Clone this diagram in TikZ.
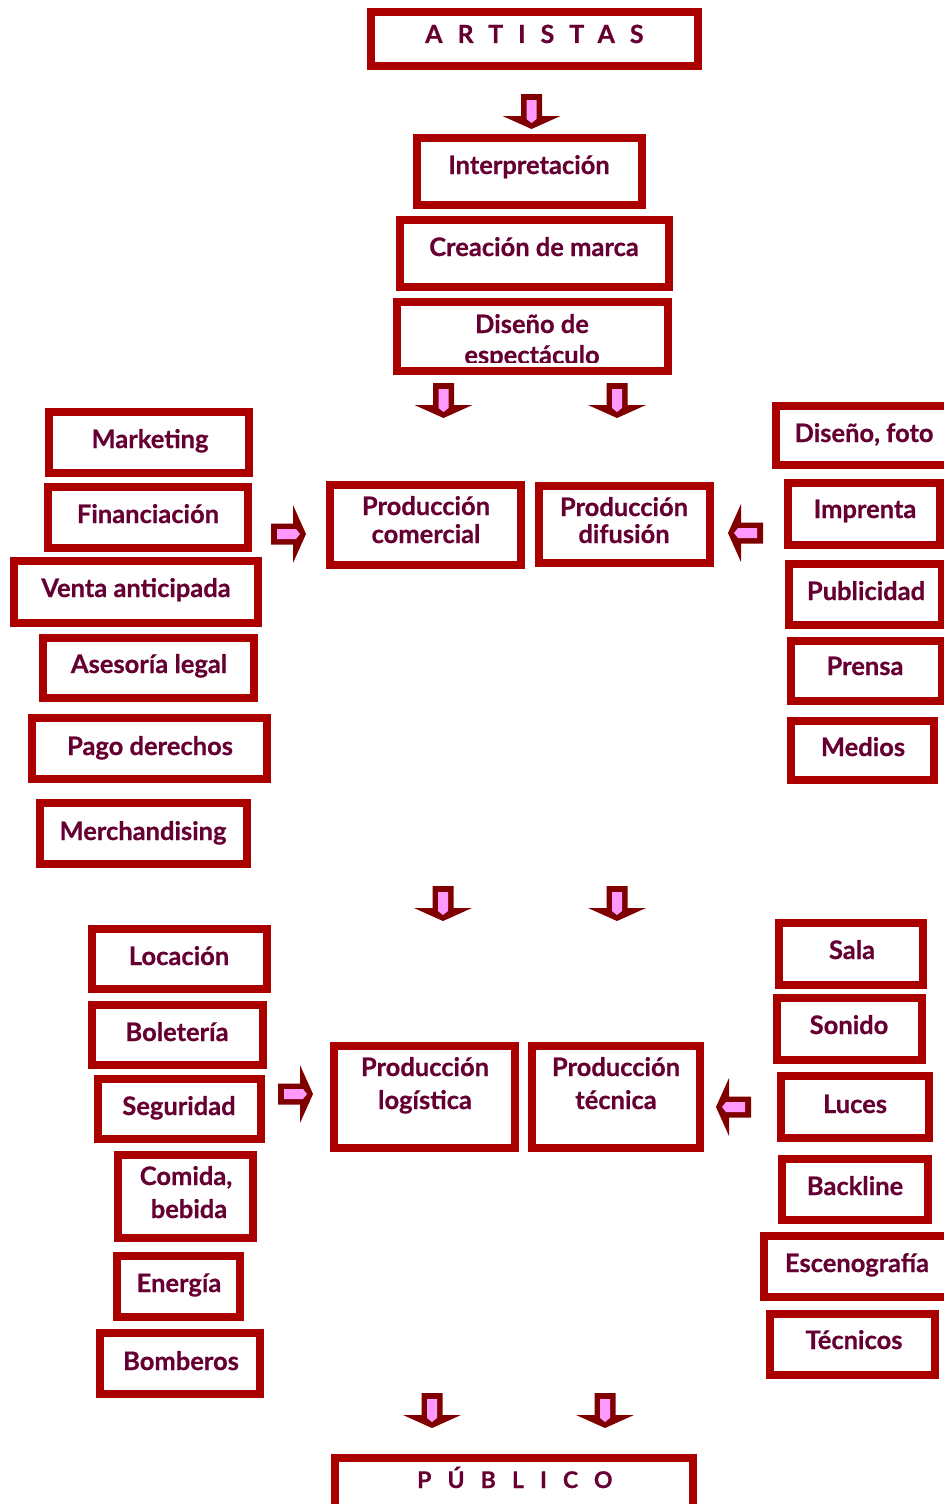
\documentclass[tikz,border=0pt]{standalone}
\usepackage{fontspec}
\setmainfont{Lato}[BoldFeatures={FakeBold=0.6}]
\definecolor{edge}{HTML}{AA0000}
\definecolor{ink}{HTML}{660033}
\definecolor{arrowdark}{HTML}{800000}
\definecolor{arrowpink}{HTML}{FF99FF}
\tikzset{
  box/.style={draw=edge, line width=8pt, fill=white, inner sep=0pt, rectangle},
  txt/.style={text=ink, inner sep=0pt, anchor=base,
    font=\fontsize{25.5}{30}\selectfont\bfseries},
  blockarrow/.pic={
    \fill[arrowdark] (-10.5,0) -- (10.5,0) -- (10.5,22) -- (29,22) -- (0,35)
      -- (-29,22) -- (-10.5,22) -- cycle;
    \fill[arrowpink] (-5,6) -- (5,6) -- (5,25) -- (0,29) -- (-5,25) -- cycle;
  }
}
% box: name, left, top, right, bottom (outer edges of the frame)
\newcommand\bx[5]{%
  \node[box, minimum width={#4-#2-8}, minimum height={#5-#3-8}]
    (#1) at ({(#2+#4)/2},{(#3+#5)/2}) {};}
% text line: name, x centre, baseline, text
\newcommand\tx[4]{\node[txt] (#1) at (#2,#3) {#4};}
\begin{document}
\begin{tikzpicture}[x=1pt,y=-1pt]
\useasboundingbox (0,0) rectangle (944,1504);
\clip (0,0) rectangle (944,1504);
\fill[white] (0,0) rectangle (944,1504);

% ---- top chain ----
\bx{artistas}{367}{8}{702}{70}
\node[txt, anchor=base west,
  font=\fontsize{25}{30}\selectfont\bfseries\addfontfeatures{LetterSpace=60}]
  (t-artistas) at (425,43) {ARTISTAS};
\pic at (531.5,94) {blockarrow};

\bx{interp}{413}{134}{646}{209}
\tx{t-interp}{529}{174}{Interpretación}
\bx{marca}{396}{216}{673}{291}
\tx{t-marca}{534}{256}{Creación de marca}
\bx{disenio}{393}{298}{672}{375}
\tx{t-disenio1}{532}{333}{Diseño de}
\begin{scope}
  \clip (397,302) rectangle (668,362);
  \tx{t-disenio2}{532}{364}{espectáculo}
\end{scope}

\pic at (443.5,383) {blockarrow};
\pic at (617,383) {blockarrow};

% ---- commercial side ----
\bx{marketing}{45}{408}{253}{477}
\tx{t-marketing}{150}{448}{Marketing}
\bx{financ}{44}{483}{252}{552}
\tx{t-financ}{148}{523}{Financiación}
\bx{venta}{10}{557}{262}{627}
\tx{t-venta}{136}{597}{Venta anticipada}
\bx{asesoria}{39}{634}{258}{702}
\tx{t-asesoria}{149}{673}{Asesoría legal}
\bx{pago}{28}{714}{271}{783}
\tx{t-pago}{150}{755}{Pago derechos}
\bx{merch}{36}{799}{251}{868}
\tx{t-merch}{143}{840}{Merchandising}

\pic[rotate=90] at (271,534) {blockarrow};

\bx{comercial}{326}{481}{525}{569}
\tx{t-comercial1}{426}{515}{Producción}
\tx{t-comercial2}{426}{543}{comercial}
\bx{difusion}{535}{482}{714}{567}
\tx{t-difusion1}{624}{516}{Producción}
\tx{t-difusion2}{624}{543}{difusión}

\pic[rotate=-90] at (763,533) {blockarrow};

% ---- promotion side ----
\bx{foto}{772}{402}{960}{469}
\tx{t-foto}{864}{442}{Diseño, foto}
\bx{imprenta}{784}{479}{944}{549}
\tx{t-imprenta}{865}{518}{Imprenta}
\bx{publicidad}{785}{560}{946}{629}
\tx{t-publicidad}{866}{600}{Publicidad}
\bx{prensa}{787}{637}{946}{705}
\tx{t-prensa}{865}{675}{Prensa}
\bx{medios}{787}{717}{938}{784}
\tx{t-medios}{863}{756}{Medios}

\pic at (443,886) {blockarrow};
\pic at (617,886) {blockarrow};

% ---- logistics side ----
\bx{locacion}{88}{925}{271}{993}
\tx{t-locacion}{179}{965}{Locación}
\bx{boleteria}{88}{1001}{267}{1069}
\tx{t-boleteria}{177}{1041}{Boletería}
\bx{seguridad}{94}{1075}{265}{1143}
\tx{t-seguridad}{179}{1115}{Seguridad}
\bx{comida}{114}{1151}{257}{1242}
\tx{t-comida1}{186}{1185}{Comida,}
\tx{t-comida2}{189}{1218}{bebida}
\bx{energia}{113}{1252}{244}{1321}
\tx{t-energia}{179}{1292}{Energía}
\bx{bomberos}{96}{1329}{264}{1398}
\tx{t-bomberos}{181}{1370}{Bomberos}

\pic[rotate=90] at (278,1094) {blockarrow};

\bx{logistica}{330}{1042}{519}{1152}
\tx{t-logistica1}{425}{1076}{Producción}
\tx{t-logistica2}{425}{1109}{logística}
\bx{tecnica}{528}{1042}{704}{1152}
\tx{t-tecnica1}{616}{1076}{Producción}
\tx{t-tecnica2}{616}{1109}{técnica}

\pic[rotate=-90] at (751,1107) {blockarrow};

% ---- technical side ----
\bx{sala}{775}{919}{927}{989}
\tx{t-sala}{852}{959}{Sala}
\bx{sonido}{773}{994}{926}{1064}
\tx{t-sonido}{849}{1034}{Sonido}
\bx{luces}{777}{1072}{933}{1142}
\tx{t-luces}{855}{1113}{Luces}
\bx{backline}{778}{1155}{932}{1224}
\tx{t-backline}{855}{1195}{Backline}
\bx{esceno}{760}{1232}{960}{1301}
\tx{t-esceno}{857}{1272}{Escenografía}
\bx{tecnicos}{766}{1310}{939}{1379}
\tx{t-tecnicos}{854}{1349}{Técnicos}

\pic at (432,1393) {blockarrow};
\pic at (605,1393) {blockarrow};

\bx{publico}{331}{1454}{697}{1520}
\node[txt, anchor=base west,
  font=\fontsize{23}{27}\selectfont\bfseries\addfontfeatures{LetterSpace=70}]
  (t-publico) at (417,1488) {PÚBLICO};
\end{tikzpicture}
\end{document}
